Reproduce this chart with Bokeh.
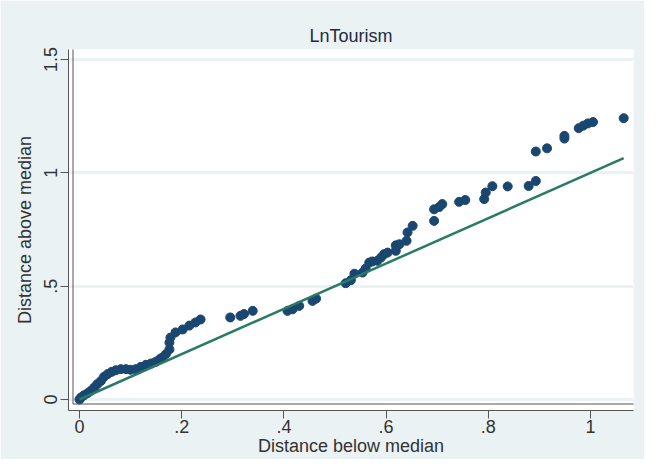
from bokeh.plotting import figure
from bokeh.models import Range1d, FixedTicker, BoxAnnotation
from bokeh.embed import file_html
from bokeh.resources import INLINE

title_text = "LnTourism"
x_label = "Distance below median"
y_label = "Distance above median"

x_ticks = [0, 0.2, 0.4, 0.6, 0.8, 1]
x_tick_labels = ["0", ".2", ".4", ".6", ".8", "1"]
y_ticks = [0, 0.5, 1, 1.5]
y_tick_labels = ["0", ".5", "1", "1.5"]

dist_below = [0.000, 0.003, 0.009, 0.016, 0.022, 0.029, 0.035, 0.042, 0.048, 0.055,
              0.063, 0.071, 0.081, 0.091, 0.100, 0.110, 0.120, 0.130, 0.140, 0.149,
              0.157, 0.162, 0.169, 0.176, 0.176, 0.178, 0.188, 0.202, 0.215, 0.227,
              0.237, 0.295, 0.315, 0.322, 0.339, 0.407, 0.417, 0.430, 0.456, 0.463,
              0.521, 0.531, 0.538, 0.554, 0.560, 0.567, 0.573, 0.583, 0.590, 0.596,
              0.603, 0.619, 0.619, 0.626, 0.640, 0.642, 0.652, 0.694, 0.694, 0.704,
              0.710, 0.743, 0.755, 0.792, 0.795, 0.808, 0.838, 0.879, 0.893, 0.893,
              0.915, 0.949, 0.949, 0.977, 0.986, 0.995, 1.005, 1.065]
dist_above = [0.000, 0.009, 0.019, 0.028, 0.038, 0.053, 0.068, 0.082, 0.100, 0.112,
              0.122, 0.129, 0.134, 0.134, 0.131, 0.134, 0.144, 0.153, 0.159, 0.166,
              0.178, 0.185, 0.200, 0.221, 0.251, 0.273, 0.296, 0.309, 0.326, 0.340,
              0.353, 0.362, 0.369, 0.377, 0.391, 0.391, 0.398, 0.413, 0.435, 0.445,
              0.513, 0.526, 0.555, 0.560, 0.578, 0.604, 0.609, 0.612, 0.626, 0.641,
              0.648, 0.656, 0.680, 0.685, 0.700, 0.737, 0.766, 0.788, 0.839, 0.849,
              0.862, 0.872, 0.880, 0.884, 0.913, 0.941, 0.940, 0.942, 0.964, 1.094,
              1.108, 1.151, 1.163, 1.197, 1.208, 1.218, 1.224, 1.241]

ref_line = [0, max(dist_below)]

FONT = "Liberation Sans"
BG = "#EAF2F3"

p = figure(width=644, height=459, output_backend="svg", toolbar_location=None,
           x_range=Range1d(-0.0215, 1.0842), y_range=Range1d(-0.0485, 1.544),
           min_border_left=68, min_border_right=11, min_border_top=49, min_border_bottom=49)
p.border_fill_color = BG
p.background_fill_color = "white"
p.outline_line_color = None

p.title.text = title_text
p.title.align = "center"
p.title.text_font = FONT
p.title.text_font_size = "18px"
p.title.text_font_style = "normal"
p.title.text_color = "#1e2a40"
p.title.standoff = 8

p.xgrid.visible = False
p.ygrid.ticker = FixedTicker(ticks=y_ticks)
p.ygrid.grid_line_color = BG
p.ygrid.grid_line_width = 3

for ax in (p.xaxis[0], p.yaxis[0]):
    ax.axis_line_color = "#555555"
    ax.major_tick_line_color = "#555555"
    ax.major_tick_out = 8
    ax.major_tick_in = 0
    ax.minor_tick_line_color = None
    ax.major_label_text_font = FONT
    ax.major_label_text_font_size = "18px"
    ax.major_label_text_color = "#333333"
    ax.axis_label_text_font = FONT
    ax.axis_label_text_font_size = "18px"
    ax.axis_label_text_font_style = "normal"
    ax.axis_label_text_color = "#333333"

p.xaxis.ticker = FixedTicker(ticks=x_ticks)
p.xaxis.major_label_overrides = dict(zip(x_ticks, x_tick_labels))
p.xaxis.axis_label = x_label
p.xaxis.axis_label_standoff = 0
p.xaxis.major_label_standoff = 1

p.yaxis.ticker = FixedTicker(ticks=y_ticks)
p.yaxis.major_label_overrides = dict(zip(y_ticks, y_tick_labels))
p.yaxis.major_label_orientation = "vertical"
p.yaxis.axis_label = y_label
p.yaxis.axis_label_standoff = 7
p.yaxis.major_label_standoff = 3

p.scatter(dist_below, dist_above, size=9, fill_color="#1a476f", line_color="#1a476f")
p.line(ref_line, ref_line, line_color="#2a7a66", line_width=2.5)

# outer frame line of the graph region
p.add_layout(BoxAnnotation(left=4.5, right=643.5, top=6.5, bottom=470,
                           left_units="screen", right_units="screen",
                           top_units="screen", bottom_units="screen",
                           fill_alpha=0, line_color="#555555", line_width=1,
                           line_alpha=1, level="overlay"))

open("out.html", "w").write(file_html(p, INLINE))
